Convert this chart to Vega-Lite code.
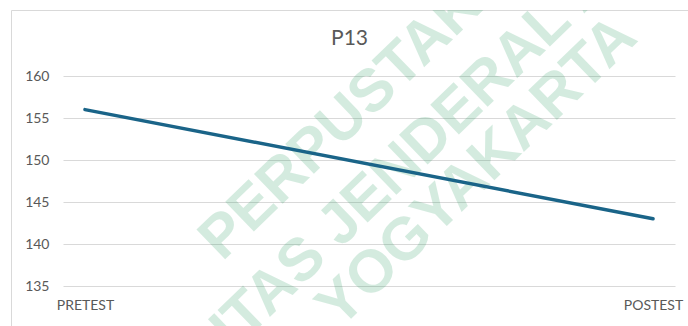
{
  "$schema": "https://vega.github.io/schema/vega-lite/v6.json",
  "width": 677,
  "height": 316,
  "autosize": {"type": "none"},
  "padding": {"left": 11, "top": 10, "right": 0, "bottom": 0},
  "background": "white",
  "config": {
    "view": {"stroke": "#d9d9d9", "strokeWidth": 1},
    "font": "Lato"
  },
  "title": {
    "text": "P13",
    "anchor": "middle",
    "frame": "group",
    "font": "Lato",
    "fontSize": 21,
    "fontWeight": "normal",
    "color": "#595959",
    "baseline": "alphabetic",
    "offset": -56
  },
  "data": {
    "values": [
      {"tes": "PRETEST", "nilai": 156},
      {"tes": "POSTEST", "nilai": 143}
    ]
  },
  "resolve": {"scale": {"x": "independent"}},
  "layer": [
    {
      "data": {"values": [{}]},
      "mark": {"type": "text", "clip": true, "font": "Liberation Sans", "fontWeight": "bold", "fontSize": 60, "angle": -44, "align": "center", "baseline": "middle", "color": "#088f49", "opacity": 0.17},
      "encoding": {
        "x": {"datum": 0.531, "type": "quantitative", "scale": {"domain": [0, 1], "range": [52, 664], "zero": false, "nice": false}, "axis": null},
        "y": {"datum": 159.88, "type": "quantitative"},
        "text": {"value": "PERPUSTAKAAN"}
      }
    },
    {
      "data": {"values": [{}]},
      "mark": {"type": "text", "clip": true, "font": "Liberation Sans", "fontWeight": "bold", "fontSize": 60, "angle": -44, "align": "center", "baseline": "middle", "color": "#088f49", "opacity": 0.17},
      "encoding": {
        "x": {"datum": 0.634, "type": "quantitative", "scale": {"domain": [0, 1], "range": [52, 664], "zero": false, "nice": false}, "axis": null},
        "y": {"datum": 155.12, "type": "quantitative"},
        "text": {"value": "UNIVERSITAS JENDERAL ACHMAD YANI"}
      }
    },
    {
      "data": {"values": [{}]},
      "mark": {"type": "text", "clip": true, "font": "Liberation Sans", "fontWeight": "bold", "fontSize": 60, "angle": -44, "align": "center", "baseline": "middle", "color": "#088f49", "opacity": 0.17},
      "encoding": {
        "x": {"datum": 0.6765, "type": "quantitative", "scale": {"domain": [0, 1], "range": [52, 664], "zero": false, "nice": false}, "axis": null},
        "y": {"datum": 148.57, "type": "quantitative"},
        "text": {"value": "YOGYAKARTA"}
      }
    },
    {
      "mark": {"type": "line", "color": "#1a6488", "strokeWidth": 3.5, "strokeCap": "round"},
      "encoding": {
        "x": {
          "field": "tes",
          "type": "nominal",
          "sort": null,
          "scale": {"type": "point", "range": [52, 664], "padding": 0.0387},
          "axis": {
            "title": null,
            "orient": "bottom",
            "offset": -40,
            "domain": false,
            "ticks": false,
            "grid": false,
            "labelAngle": 0,
            "labelFont": "Lato",
            "labelFontSize": 14,
            "labelColor": "#595959",
            "labelPadding": 12
          }
        },
        "y": {
          "field": "nilai",
          "type": "quantitative",
          "scale": {"domain": [135, 160], "range": [276, 66], "zero": false, "nice": false},
          "axis": {
            "title": null,
            "values": [135, 140, 145, 150, 155, 160],
            "offset": -52,
            "domain": false,
            "ticks": false,
            "grid": true,
            "gridColor": "#d9d9d9",
            "gridWidth": 1,
            "labelFont": "Lato",
            "labelFontSize": 14,
            "labelColor": "#595959",
            "labelPadding": 14
          }
        }
      }
    }
  ]
}
